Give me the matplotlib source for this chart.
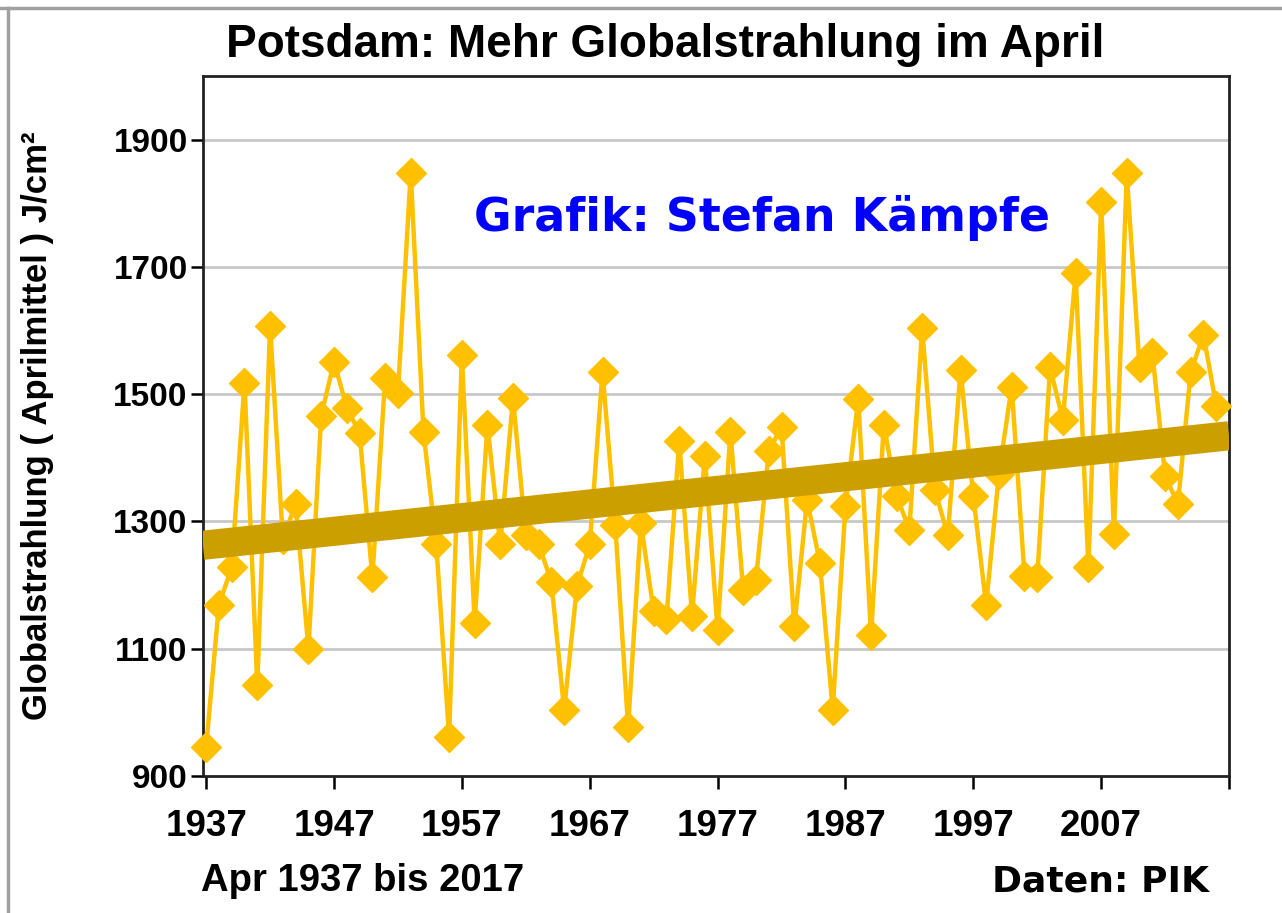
import numpy as np
import matplotlib
matplotlib.use("Agg")
import matplotlib.pyplot as plt
from matplotlib.lines import Line2D

# April-Mittel der Globalstrahlung Potsdam (J/cm²)
jahre = list(range(1937, 2017))
strahlung = [
    946, 1169, 1228, 1518, 1043, 1607, 1272, 1328, 1100, 1466,
    1551, 1479, 1439, 1212, 1525, 1502, 1848, 1440, 1264, 962,
    1561, 1141, 1452, 1264, 1494, 1278, 1265, 1205, 1004, 1198,
    1264, 1535, 1294, 977, 1297, 1159, 1146, 1426, 1152, 1403,
    1129, 1441, 1192, 1208, 1410, 1449, 1135, 1334, 1235, 1004,
    1324, 1492, 1122, 1452, 1340, 1287, 1604, 1350, 1278, 1538,
    1340, 1168, 1375, 1512, 1215, 1212, 1542, 1460, 1690, 1228,
    1802, 1281, 1847, 1542, 1565, 1372, 1327, 1535, 1593, 1482,
]
x_ticks = [1937, 1947, 1957, 1967, 1977, 1987, 1997, 2007, 2017]
x_labels = ["1937", "1947", "1957", "1967", "1977", "1987", "1997", "2007", ""]
y_ticks = [900, 1100, 1300, 1500, 1700, 1900]

gelb = "#FFC000"
trend_farbe = "#CC9F00"
normal = ["Liberation Sans", "DejaVu Sans"]
breit = ["DejaVu Sans"]

fig = plt.figure(figsize=(12.82, 9.13), dpi=100)
ax = fig.add_axes([0.1583, 0.150, 0.8004, 0.7668])

x = np.array(jahre)
y = np.array(strahlung)

ax.plot(x, y, color=gelb, lw=3.2, marker="D", ms=15.5, mfc=gelb, mec=gelb,
        zorder=3, clip_on=False)

# linearer Trend
xmin, xmax = 1936.75, 2017
k, d = np.polyfit(x, y, 1)
xt = np.array([xmin, xmax])
ax.plot(xt, k * xt + d, color=trend_farbe, lw=21, solid_capstyle="butt", zorder=4)

ax.set_xlim(xmin, xmax)
ax.set_ylim(900, 2000)
ax.set_xticks(x_ticks)
ax.set_yticks(y_ticks)
ax.set_xticklabels(x_labels, fontfamily=normal, fontweight="bold", fontsize=26.5)
ax.set_yticklabels([str(t) for t in y_ticks], fontfamily=normal,
                   fontweight="bold", fontsize=24)
ax.tick_params(axis="x", direction="out", length=9, width=1.8, pad=15)
ax.tick_params(axis="y", direction="out", length=9, width=1.8, pad=2)

for s in ax.spines.values():
    s.set_linewidth(2)
    s.set_color("#222222")

for g in [1100, 1300, 1500, 1700, 1900]:
    ax.axhline(g, color="#C8C8C8", lw=2, zorder=1)

ax.set_ylabel("Globalstrahlung ( Aprilmittel ) J/cm²", fontfamily=normal,
              fontweight="bold", fontsize=25)
ax.yaxis.set_label_coords(-0.145, 0.5)

fig.text(0.519, 0.951, "Potsdam: Mehr Globalstrahlung im April", ha="center",
         va="center", fontfamily=normal, fontweight="bold", fontsize=33)
ax.text(0.545, 0.797, "Grafik: Stefan Kämpfe", transform=ax.transAxes,
        ha="center", va="center", color="#0000FF", fontfamily=breit,
        fontweight="bold", fontsize=33, zorder=5)
fig.text(0.157, 0.035, "Apr 1937 bis 2017", ha="left", va="center",
         fontfamily=normal, fontweight="bold", fontsize=27.5)
fig.text(0.943, 0.035, "Daten: PIK", ha="right", va="center",
         fontfamily=breit, fontweight="bold", fontsize=26)

# grauer Rahmen links und oben
fig.add_artist(Line2D([0.0065, 0.0065], [0, 0.991], color="#A0A0A0", lw=2.5,
                      transform=fig.transFigure))
fig.add_artist(Line2D([0, 1], [0.991, 0.991], color="#A0A0A0", lw=2.5,
                      transform=fig.transFigure))

fig.savefig("out.png", dpi=100)
